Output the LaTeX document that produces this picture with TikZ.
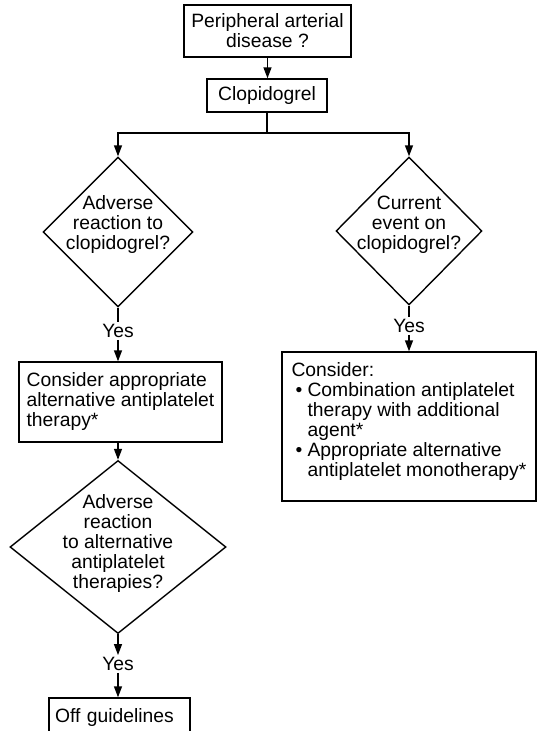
\documentclass[tikz,border=0pt]{standalone}
\usepackage{fontspec}
\setmainfont{Liberation Sans}
\usetikzlibrary{shapes.geometric,arrows.meta}

% bullet item helpers for the right-hand box
\newcommand\bulitem{\makebox[16pt][l]{\hspace{4pt}\textbullet}}
\newcommand\bulcont{\hspace*{16pt}}

\begin{document}
\begin{tikzpicture}[x=1pt,y=-1pt,
  every node/.style={font=\fontsize{19.3}{20}\selectfont, inner sep=0pt},
  box/.style={draw, line width=1.4pt, rectangle},
  dia/.style={draw, line width=1.4pt, diamond, inner sep=0pt},
  lbl/.style={align=center},
  yes/.style={inner sep=2pt},
  link/.style={line width=1.4pt},
  arr/.style={link, -{Triangle[length=11pt,width=8pt]}}
]
\useasboundingbox (0,0) rectangle (538,731);
\clip (0,0) rectangle (538,731);

% top of the flow
\node[box, minimum width=167, minimum height=52, align=center] (pad) at (267.5,31)
  {Peripheral arterial\\disease ?};
\node[box, minimum width=120, minimum height=33] (clop) at (267,95.5) {Clopidogrel};
\draw[arr] (pad.south) -- (pad.south |- clop.north);

% decision diamonds
\node[dia, minimum width=150, minimum height=150] (d1) at (118,232) {};
\node[lbl] (d1t) at (118,225) {Adverse\\reaction to\\clopidogrel?};
\node[dia, minimum width=146, minimum height=148] (d3) at (409,231) {};
\node[lbl] (d3t) at (409,225) {Current\\event on\\clopidogrel?};

% split below Clopidogrel
\coordinate (split) at (267,133);
\draw[link] (clop.south) -- (split);
\draw[arr] (split) -| (d1.north);
\draw[arr] (split) -| (d3.north);

% left branch
\node[yes] (y1) at (118,331) {Yes};
\node[box, minimum width=203, minimum height=80, align=left] (alt) at (120.5,402)
  {Consider appropriate\\alternative antiplatelet\\therapy*};
\draw[link] (d1.south) -- (y1.north);
\draw[arr] (y1.south) -- (y1.south |- alt.north);

\node[dia, minimum width=216, minimum height=173] (d2) at (118,547) {};
\node[lbl] (d2t) at (118,544) {Adverse\\reaction\\to alternative\\antiplatelet\\therapies?};
\draw[arr] (d2.north |- alt.south) -- (d2.north);

\node[yes] (y2) at (118,664) {Yes};
\node[box, minimum height=40, text width=129, inner xsep=6pt, align=left] (off) at (119.5,718)
  {Off guidelines};
\draw[arr] (d2.south) -- (y2.north);
\draw[arr] (y2.south) -- (y2.south |- off.north);

% right branch
\node[yes] (y3) at (409,326) {Yes};
\node[box, minimum width=254, minimum height=149, align=left] (comb) at (409,426.5)
  {Consider:\\
   \bulitem Combination antiplatelet\\
   \bulcont therapy with additional\\
   \bulcont agent*\\
   \bulitem Appropriate alternative\\
   \bulcont antiplatelet monotherapy*\\[-6pt]\mbox{}};
\draw[link] (d3.south) -- (y3.north);
\draw[arr] (y3.south) -- (comb.north);
\end{tikzpicture}
\end{document}
